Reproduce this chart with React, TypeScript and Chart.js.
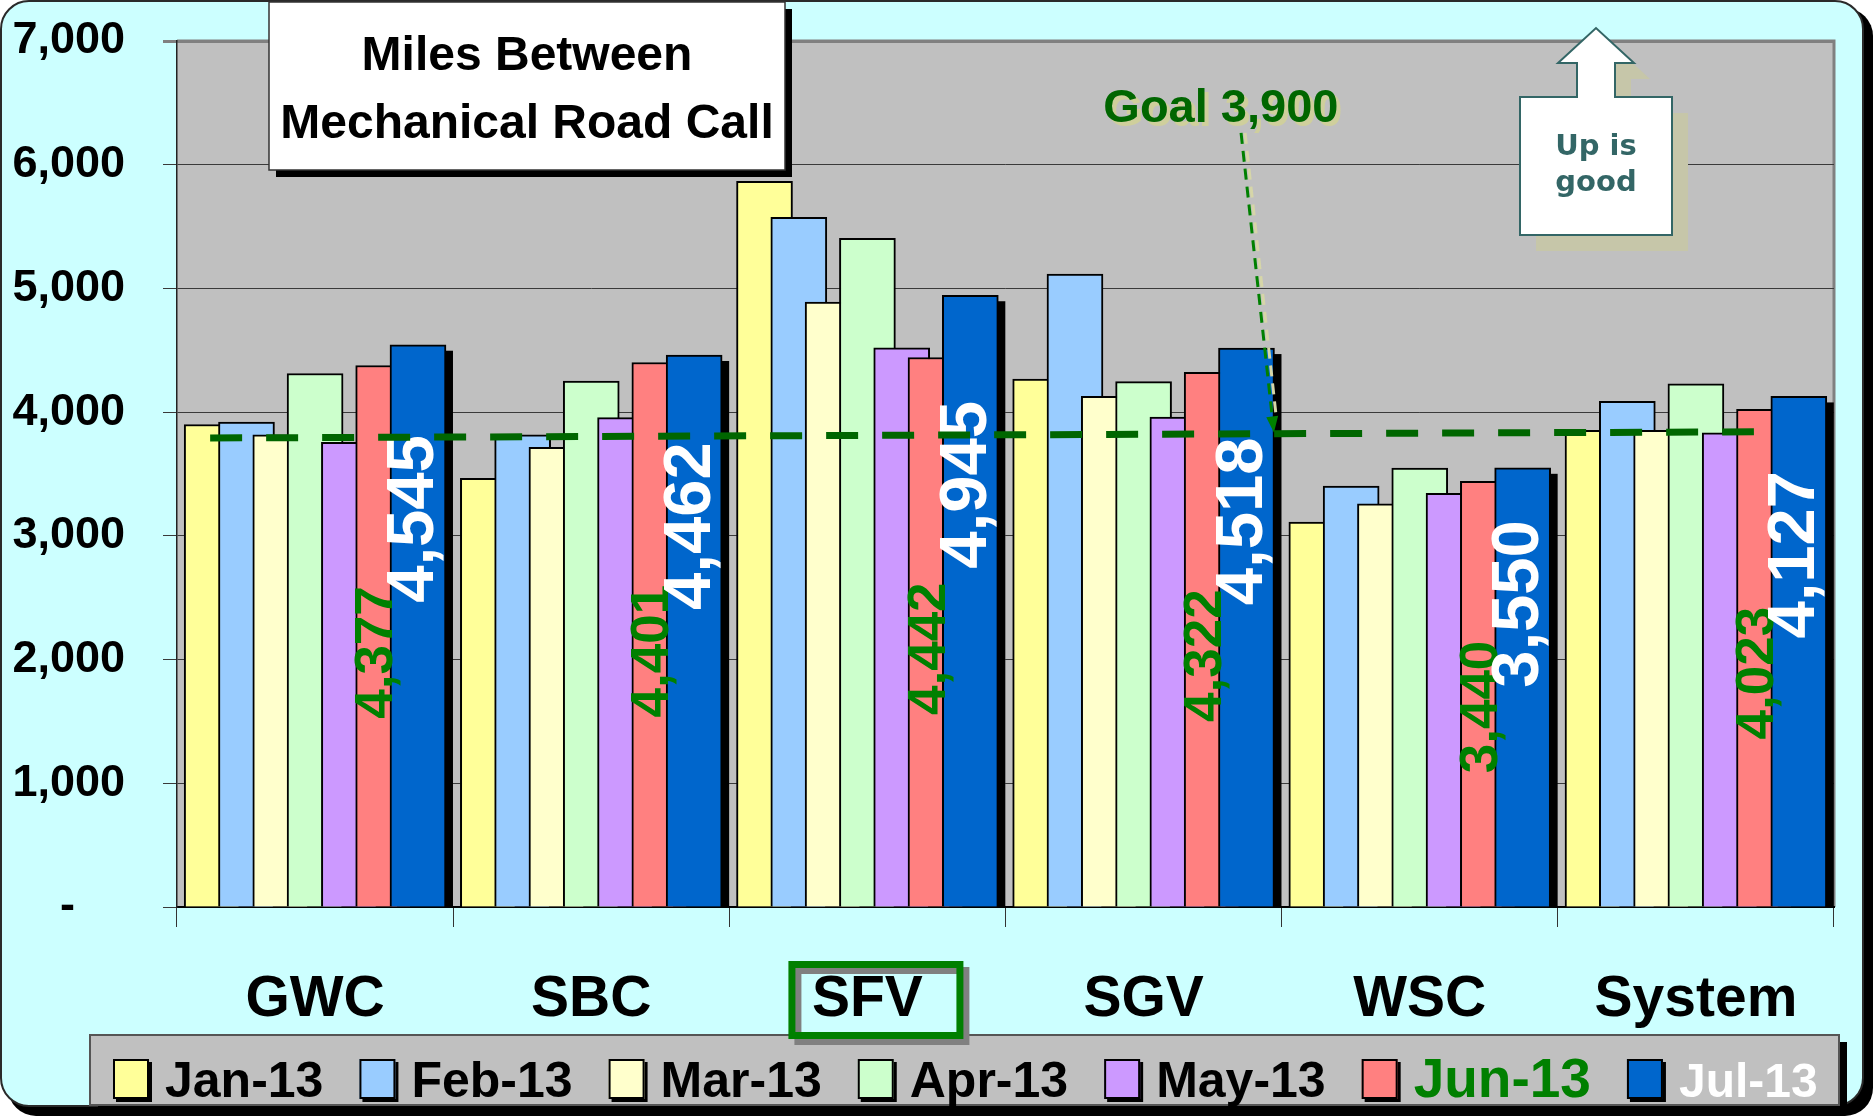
import React, { useEffect, useRef } from 'react';
import { Chart, registerables } from 'chart.js';

Chart.register(...registerables);

// ---------- data ----------
const categories = ['GWC', 'SBC', 'SFV', 'SGV', 'WSC', 'System'];
const seriesNames = ['Jan-13', 'Feb-13', 'Mar-13', 'Apr-13', 'May-13', 'Jun-13', 'Jul-13'];
const jan13 = [3900, 3464, 5865, 4268, 3111, 3852];
const feb13 = [3920, 3816, 5575, 5115, 3403, 4087];
const mar13 = [3816, 3715, 4890, 4127, 3258, 3852];
const apr13 = [4312, 4251, 5405, 4247, 3547, 4228];
const may13 = [3755, 3956, 4520, 3960, 3343, 3832];
const jun13 = [4377, 4401, 4442, 4322, 3440, 4023];
const jul13 = [4545, 4462, 4945, 4518, 3550, 4127];
const yTickValues = [0, 1000, 2000, 3000, 4000, 5000, 6000, 7000];
const goalLineX = [-0.38, 5.21];
const goalLineY = [3791, 3841];
const goalLabel = 'Goal 3,900';
const goalLabelAt = [3.28, 6345];
const goalArrowFrom = [3.353, 6257];
const goalArrowTo = [3.472, 3836];
const titleLines = ['Miles Between', 'Mechanical Road Call'];
const calloutLines = ['Up is', 'good'];
const highlightedCategory = 'SFV';

// ---------- styles ----------
const W = 1874;
const H = 1117;
const FONT = "'Liberation Sans', Arial, Helvetica, sans-serif";
const seriesColors = ['#FFFF99', '#99CCFF', '#FFFFCC', '#CCFFCC', '#CC99FF', '#FF8080', '#0066CC'];
const legendFontSizes = [50, 50, 50, 50, 50, 55, 48];
const legendTextColors = ['#000', '#000', '#000', '#000', '#000', '#008000', '#FFFFFF'];
const SERIES_STEP = 0.1242; // category units between neighbouring series bars
const BAR_PX = 56;

const seriesValues = [jan13, feb13, mar13, apr13, may13, jun13, jul13];

function roundRect(ctx: CanvasRenderingContext2D, x: number, y: number, w: number, h: number, r: number) {
  ctx.beginPath();
  ctx.moveTo(x + r, y);
  ctx.arcTo(x + w, y, x + w, y + h, r);
  ctx.arcTo(x + w, y + h, x, y + h, r);
  ctx.arcTo(x, y + h, x, y, r);
  ctx.arcTo(x, y, x + w, y, r);
  ctx.closePath();
}

const fmt = (v: number) => v.toLocaleString('en-US');

const backgroundPlugin = {
  id: 'cardBackground',
  beforeDraw(chart: any) {
    const { ctx, chartArea: a } = chart;
    ctx.save();
    ctx.fillStyle = '#FFFFFF';
    ctx.fillRect(0, 0, W, H);
    roundRect(ctx, 8, 8, W - 9, H - 9, 28);
    ctx.fillStyle = '#000';
    ctx.fill();
    roundRect(ctx, 1, 1, W - 12, H - 12, 28);
    ctx.fillStyle = '#CCFFFF';
    ctx.fill();
    ctx.lineWidth = 2;
    ctx.strokeStyle = '#2a2a2a';
    ctx.stroke();
    ctx.fillStyle = '#C0C0C0';
    ctx.fillRect(a.left, a.top, a.right - a.left, a.bottom - a.top);
    ctx.strokeStyle = '#808080';
    ctx.lineWidth = 3;
    ctx.beginPath();
    ctx.moveTo(a.left, a.top);
    ctx.lineTo(a.right, a.top);
    ctx.lineTo(a.right, a.bottom);
    ctx.stroke();
    ctx.restore();
  },
};

const barDecorPlugin = {
  id: 'barDecor',
  beforeDatasetDraw(chart: any, args: any) {
    if (args.index !== 6) return;
    const { ctx } = chart;
    const meta = chart.getDatasetMeta(6);
    ctx.save();
    ctx.fillStyle = '#000';
    meta.data.forEach((el: any) => {
      const p = el.getProps(['x', 'y', 'base', 'width'], true);
      ctx.fillRect(p.x - p.width / 2 + 7, p.y + 6, p.width, p.base - p.y - 6);
    });
    ctx.restore();
  },
  afterDatasetDraw(chart: any, args: any) {
    if (args.index !== 6) return;
    const { ctx } = chart;
    const y = chart.scales.y;
    const specs = [
      { ds: 5, color: '#008000', size: 53, ratio: 0.47, dx: -6 },
      { ds: 6, color: '#FFFFFF', size: 67, ratio: 0.69, dx: -3 },
    ];
    ctx.save();
    specs.forEach((s) => {
      const meta = chart.getDatasetMeta(s.ds);
      meta.data.forEach((el: any, i: number) => {
        const v = seriesValues[s.ds][i];
        const px = el.x + s.dx;
        const py = y.getPixelForValue(v * s.ratio);
        ctx.save();
        ctx.translate(px, py);
        ctx.rotate(-Math.PI / 2);
        ctx.font = `bold ${s.size}px ${FONT}`;
        ctx.fillStyle = s.color;
        ctx.textAlign = 'center';
        ctx.textBaseline = 'middle';
        ctx.fillText(fmt(v), 0, 0);
        ctx.restore();
      });
    });
    ctx.restore();
  },
};

const overlayPlugin = {
  id: 'overlay',
  afterDraw(chart: any) {
    const { ctx } = chart;
    const xb = chart.scales.xb;
    const ys = chart.scales.y;
    const xc = chart.scales.x;
    ctx.save();

    // Title box
    ctx.fillStyle = '#000';
    ctx.fillRect(276, 9, 516, 168);
    ctx.fillStyle = '#FFF';
    ctx.fillRect(269, 2, 516, 168);
    ctx.strokeStyle = '#333';
    ctx.lineWidth = 1.5;
    ctx.strokeRect(269, 2, 516, 168);
    ctx.fillStyle = '#000';
    ctx.font = `bold 48px ${FONT}`;
    ctx.textAlign = 'center';
    ctx.textBaseline = 'alphabetic';
    ctx.fillText(titleLines[0], 527, 70);
    ctx.fillText(titleLines[1], 527, 138);

    // Goal label + arrow
    const gx = xb.getPixelForValue(goalLabelAt[0]);
    const gy = ys.getPixelForValue(goalLabelAt[1]);
    ctx.font = `bold 47px ${FONT}`;
    ctx.fillStyle = '#CFCF9C';
    ctx.fillText(goalLabel, gx + 4, gy + 4);
    ctx.fillStyle = '#006600';
    ctx.fillText(goalLabel, gx, gy);

    const x1 = xb.getPixelForValue(goalArrowFrom[0]);
    const y1 = ys.getPixelForValue(goalArrowFrom[1]);
    const x2 = xb.getPixelForValue(goalArrowTo[0]);
    const y2 = ys.getPixelForValue(goalArrowTo[1]);
    const ang = Math.atan2(y2 - y1, x2 - x1);
    const hl = 16;
    const ex = x2 - Math.cos(ang) * hl;
    const ey = y2 - Math.sin(ang) * hl;
    ctx.lineWidth = 3;
    ctx.setLineDash([11, 7]);
    ctx.strokeStyle = '#D6D6A8';
    ctx.beginPath();
    ctx.moveTo(x1 + 4, y1);
    ctx.lineTo(ex + 4, ey);
    ctx.stroke();
    ctx.strokeStyle = '#008000';
    ctx.beginPath();
    ctx.moveTo(x1, y1);
    ctx.lineTo(ex, ey);
    ctx.stroke();
    ctx.setLineDash([]);
    ctx.fillStyle = '#008000';
    ctx.beginPath();
    ctx.moveTo(x2, y2);
    ctx.lineTo(ex + Math.cos(ang + Math.PI / 2) * 6, ey + Math.sin(ang + Math.PI / 2) * 6);
    ctx.lineTo(ex - Math.cos(ang + Math.PI / 2) * 6, ey - Math.sin(ang + Math.PI / 2) * 6);
    ctx.closePath();
    ctx.fill();

    // "Up is good" callout
    const pts = [
      [1520, 97], [1577, 97], [1577, 63], [1558, 63], [1596, 28], [1634, 63],
      [1615, 63], [1615, 97], [1672, 97], [1672, 235], [1520, 235],
    ];
    const poly = (dx: number, dy: number) => {
      ctx.beginPath();
      pts.forEach((p, i) => (i ? ctx.lineTo(p[0] + dx, p[1] + dy) : ctx.moveTo(p[0] + dx, p[1] + dy)));
      ctx.closePath();
    };
    poly(16, 16);
    ctx.fillStyle = '#C6C6A9';
    ctx.fill();
    poly(0, 0);
    ctx.fillStyle = '#FFFFFF';
    ctx.fill();
    ctx.strokeStyle = '#336666';
    ctx.lineWidth = 2;
    ctx.stroke();
    ctx.fillStyle = '#336666';
    ctx.font = "bold 29px 'DejaVu Sans', Verdana, sans-serif";
    ctx.textAlign = 'center';
    ctx.fillText(calloutLines[0], 1596, 155);
    ctx.fillText(calloutLines[1], 1596, 191);

    // Legend
    ctx.fillStyle = '#000';
    ctx.fillRect(98, 1042, 1749, 70);
    ctx.fillStyle = '#C0C0C0';
    ctx.fillRect(90, 1035, 1749, 70);
    ctx.strokeStyle = '#555';
    ctx.lineWidth = 2;
    ctx.strokeRect(90, 1035, 1749, 70);
    let lx = 113;
    ctx.textAlign = 'left';
    ctx.textBaseline = 'alphabetic';
    seriesNames.forEach((name, i) => {
      ctx.fillStyle = '#000';
      ctx.fillRect(lx + 3, 1062, 36, 40);
      ctx.fillStyle = seriesColors[i];
      ctx.fillRect(lx, 1059, 36, 40);
      ctx.strokeStyle = '#000';
      ctx.lineWidth = 2;
      ctx.strokeRect(lx + 1, 1060, 34, 38);
      ctx.font = `bold ${legendFontSizes[i]}px ${FONT}`;
      ctx.fillStyle = legendTextColors[i];
      ctx.fillText(name, lx + 52, 1097);
      lx += 52 + ctx.measureText(name).width + 36;
    });

    // highlighted category box
    const hi = categories.indexOf(highlightedCategory);
    const cx = xc.getPixelForTick(hi);
    const bx = cx - 79 + 3.5;
    const by = 961 + 3.5;
    const bw = 168;
    const bh = 71;
    ctx.lineWidth = 7;
    ctx.strokeStyle = '#808080';
    ctx.strokeRect(bx + 6, by + 6, bw, bh);
    ctx.strokeStyle = '#008000';
    ctx.strokeRect(bx, by, bw, bh);

    ctx.restore();
  },
};

export default function App() {
  const ref = useRef<HTMLCanvasElement>(null);
  useEffect(() => {
    const datasets: any[] = seriesValues.map((vals, si) => ({
      type: 'bar',
      label: seriesNames[si],
      data: vals.map((v, ci) => ({ x: ci + (si - 3) * SERIES_STEP, y: v })),
      xAxisID: 'xb',
      yAxisID: 'y',
      backgroundColor: seriesColors[si],
      borderColor: '#000',
      borderWidth: 2,
      borderSkipped: 'bottom',
      barThickness: BAR_PX,
      grouped: false,
      order: 7 - si,
    }));
    datasets.push({
      type: 'line',
      label: 'Goal',
      data: goalLineX.map((x, i) => ({ x, y: goalLineY[i] })),
      xAxisID: 'xb',
      yAxisID: 'y',
      borderColor: '#006600',
      borderWidth: 7,
      borderDash: [32, 24],
      borderCapStyle: 'butt',
      pointRadius: 0,
      fill: false,
      tension: 0,
      order: 0,
    });

    const chart = new Chart(ref.current as HTMLCanvasElement, {
      type: 'bar',
      data: { labels: categories, datasets },
      options: {
        responsive: false,
        animation: false,
        devicePixelRatio: 1,
        layout: { padding: { left: 0, top: 41, right: 40, bottom: 0 } },
        plugins: {
          legend: { display: false },
          tooltip: { enabled: false },
          title: { display: false },
        },
        scales: {
          x: {
            type: 'category',
            position: 'bottom',
            offset: true,
            grid: {
              offset: true,
              drawOnChartArea: false,
              drawTicks: true,
              tickLength: 20,
              color: '#333',
              lineWidth: 1,
            },
            border: { display: true, color: '#000', width: 2 },
            ticks: {
              font: { family: FONT, size: 57, weight: 'bold' },
              color: '#000',
              padding: 39,
              maxRotation: 0,
              autoSkip: false,
            },
            afterFit: (s: any) => {
              s.height = H - 907;
              s.paddingLeft = 0;
              s.paddingRight = 0;
            },
          },
          xb: {
            type: 'linear',
            display: false,
            min: -0.5,
            max: 5.5,
            offset: false,
          },
          y: {
            type: 'linear',
            position: 'left',
            min: yTickValues[0],
            max: yTickValues[yTickValues.length - 1],
            afterBuildTicks: (s: any) => {
              s.ticks = yTickValues.map((v) => ({ value: v }));
            },
            ticks: {
              font: { family: FONT, size: 45, weight: 'bold' },
              color: '#000',
              padding: 38,
              callback: (v: any) => (Number(v) === 0 ? '-    ' : fmt(Number(v))),
            },
            grid: {
              color: (c: any) => (c.tick && c.tick.value === 7000 ? '#808080' : '#3a3a3a'),
              lineWidth: (c: any) => (c.tick && c.tick.value === 7000 ? 3 : 1),
              tickLength: 14,
            },
            border: { display: true, color: '#222', width: 1.5 },
            afterFit: (s: any) => {
              s.width = 177;
              s.paddingTop = 0;
              s.paddingBottom = 0;
            },
          },
        },
      } as any,
      plugins: [backgroundPlugin, barDecorPlugin, overlayPlugin],
    } as any);
    return () => chart.destroy();
  }, []);

  return (
    <div style={{ position: 'fixed', left: 0, top: 0, width: W, height: H }}>
      <canvas ref={ref} width={W} height={H} style={{ display: 'block', width: W, height: H }} />
    </div>
  );
}
